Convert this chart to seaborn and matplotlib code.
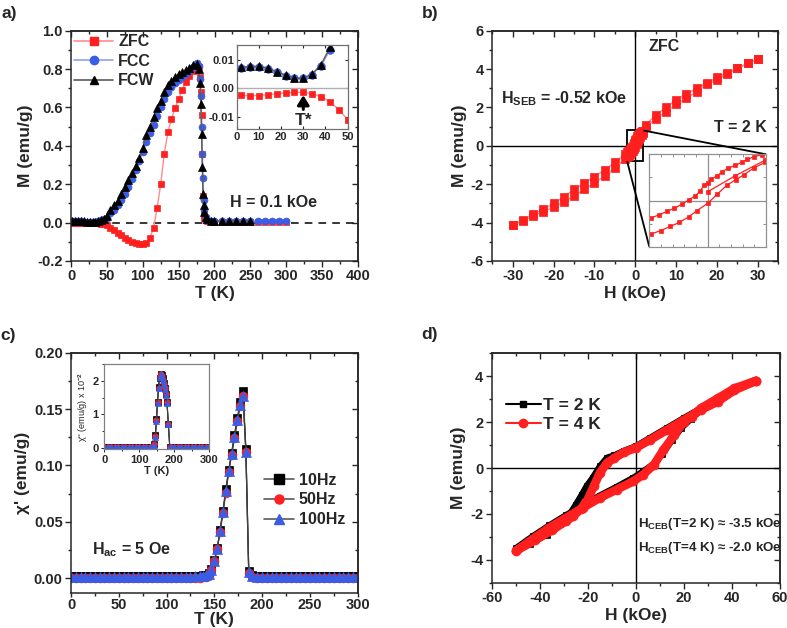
import numpy as np
import matplotlib
matplotlib.use("Agg")
import matplotlib.pyplot as plt
import seaborn as sns
from matplotlib.lines import Line2D
from matplotlib.ticker import MultipleLocator, FormatStrFormatter
from mpl_toolkits.axes_grid1.inset_locator import mark_inset

# ---------------- data ----------------
# a) M(T), low temperature part (also shown in the inset)
T_low = [2, 6, 10, 14, 18, 22, 26, 30, 34, 38, 42, 46, 50]
zfc_low = [-0.0024, -0.0026, -0.0025, -0.0022, -0.0019, -0.0016, -0.0014, -0.0014,
           -0.0018, -0.0029, -0.0047, -0.0075, -0.011]
fcc_low = [0.0072, 0.0076, 0.0076, 0.0070, 0.0057, 0.0045, 0.0035, 0.0035,
           0.0049, 0.0080, 0.0135, 0.019, 0.026]
fcw_low = [0.0074, 0.0078, 0.0078, 0.0072, 0.0059, 0.0047, 0.0036, 0.0036,
           0.0051, 0.0084, 0.0145, 0.021, 0.035]

T_hi = [55, 60, 65, 70, 75, 80, 85, 90, 95, 100, 105, 110, 115, 120, 125, 130, 135, 140,
        145, 150, 155, 160, 165, 170, 175, 178, 180, 181, 182, 183, 184, 185, 186, 188,
        190, 195, 200, 210, 220, 230, 240, 250, 260, 270, 280, 290, 300]
zfc_hi = [-0.028, -0.040, -0.053, -0.066, -0.078, -0.090, -0.100, -0.108, -0.113, -0.114,
          -0.105, -0.080, -0.028, 0.075, 0.20, 0.36, 0.47, 0.54, 0.595, 0.645, 0.69, 0.735,
          0.765, 0.79, 0.81, 0.81, 0.76, 0.68, 0.56, 0.36, 0.14, 0.05, 0.025, 0.012, 0.008,
          0.006, 0.005, 0.005, 0.005, 0.005, 0.005, 0.005, 0.005, 0.005, 0.005, 0.005, 0.005]
fcc_hi = [0.05, 0.068, 0.09, 0.118, 0.15, 0.187, 0.228, 0.272, 0.32, 0.37, 0.42, 0.466,
          0.51, 0.555, 0.60, 0.645, 0.68, 0.705, 0.725, 0.745, 0.76, 0.772, 0.79, 0.812,
          0.83, 0.815, 0.75, 0.66, 0.50, 0.36, 0.23, 0.12, 0.065, 0.03, 0.015, 0.01, 0.008,
          0.008, 0.008, 0.008, 0.008, 0.008, 0.008, 0.008, 0.008, 0.008, 0.008]
fcw_hi = [0.066, 0.09, 0.115, 0.147, 0.183, 0.22, 0.258, 0.296, 0.335, 0.39, 0.455, 0.50,
          0.55, 0.595, 0.635, 0.68, 0.715, 0.74, 0.76, 0.775, 0.787, 0.796, 0.807, 0.82,
          0.825, 0.80, 0.73, 0.62, 0.46, 0.29, 0.15, 0.09, 0.055, 0.03, 0.018, 0.01, 0.008,
          0.008, 0.008, 0.008, 0.008, 0.008]

# b) M(H) at 2 K after ZFC
H_down = [30, 27.5, 25, 22.5, 20, 17.5, 15, 12.5, 10, 7.5, 5, 2.5,
          1.85, 1.59, 1.36, 1.17, 0.94, 0.71, 0.50, 0.31, 0.10, 0.0, -0.125, -0.26,
          -0.43, -0.64, -0.87, -1.14, -1.40, -1.67, -1.94,
          -2.5, -5, -7.5, -10, -12.5, -15, -17.5, -20, -22.5, -25, -27.5, -30]
M_down = [4.5, 4.3, 4.04, 3.81, 3.57, 3.26, 3.0, 2.70, 2.39, 2.0, 1.6, 1.1,
          0.79, 0.76, 0.71, 0.66, 0.61, 0.56, 0.50, 0.42, 0.37, 0.30, 0.27, 0.16,
          0.08, 0.01, -0.06, -0.135, -0.19, -0.25, -0.30,
          -0.42, -0.86, -1.26, -1.6, -1.95, -2.27, -2.65, -3.0, -3.31, -3.55, -3.86, -4.12]
H_up = [-30, -27.5, -25, -22.5, -20, -17.5, -15, -12.5, -10, -7.5, -5, -2.5,
        -1.94, -1.60, -1.29, -0.97, -0.64, -0.38, 0.0, 0.33, 0.65, 0.96, 1.26, 1.60, 1.98,
        2.5, 5, 7.5, 10, 12.5, 15, 17.5, 20, 22.5, 25, 27.5, 30]
M_up = [-4.12, -3.93, -3.65, -3.43, -3.2, -2.91, -2.62, -2.27, -1.95, -1.57, -1.17, -0.68,
        -0.58, -0.52, -0.45, -0.38, -0.28, -0.18, -0.05, 0.11, 0.26, 0.36, 0.45, 0.57, 0.66,
        0.98, 1.4, 1.78, 2.16, 2.47, 2.82, 3.2, 3.43, 3.75, 4.04, 4.3, 4.5]
H_virgin = [0.0, 0.95, 1.98]
M_virgin = [0.15, 0.43, 0.70]

# c) ac susceptibility
T_c = list(range(0, 140, 5)) + [138, 141, 144, 147, 150, 153, 156, 159, 162, 165, 168,
                                171, 174, 177, 180, 183, 186, 189] + list(range(195, 305, 5))
chi1_10 = [0.002, 0.002, 0.002, 0.002, 0.002, 0.002, 0.002, 0.002, 0.002, 0.002, 0.002,
           0.002, 0.002, 0.002, 0.002, 0.002, 0.002, 0.002, 0.002, 0.002, 0.002, 0.002,
           0.002, 0.002, 0.002, 0.002, 0.0022, 0.0024,
           0.0025, 0.003, 0.0045, 0.008, 0.016, 0.027, 0.043, 0.060, 0.079, 0.096, 0.111,
           0.127, 0.142, 0.156, 0.166, 0.115, 0.006, 0.003,
           0.002, 0.002, 0.002, 0.002, 0.002, 0.002, 0.002, 0.002, 0.002, 0.002, 0.002,
           0.002, 0.002, 0.002, 0.002, 0.002, 0.002, 0.002, 0.002, 0.002, 0.002, 0.002]
chi1_50 = [0.0, 0.0, 0.0, 0.0, 0.0, 0.0, 0.0, 0.0, 0.0, 0.0, 0.0, 0.0, 0.0, 0.0,
           0.0, 0.0, 0.0, 0.0, 0.0, 0.0, 0.0, 0.0, 0.0, 0.0, 0.0, 0.0, 0.0002, 0.0005,
           0.001, 0.0015, 0.003, 0.007, 0.015, 0.026, 0.041, 0.058, 0.076, 0.094, 0.109,
           0.124, 0.139, 0.153, 0.162, 0.112, 0.005, 0.001,
           0.0, 0.0, 0.0, 0.0, 0.0, 0.0, 0.0, 0.0, 0.0, 0.0, 0.0,
           0.0, 0.0, 0.0, 0.0, 0.0, 0.0, 0.0, 0.0, 0.0, 0.0, 0.0]
chi1_100 = [0.0015, 0.0015, 0.0015, 0.0015, 0.0015, 0.0015, 0.0015, 0.0015, 0.0015, 0.0015,
            0.0015, 0.0015, 0.0015, 0.0015, 0.0015, 0.0015, 0.0015, 0.0015, 0.0015, 0.0015,
            0.0015, 0.0015, 0.0015, 0.0015, 0.0015, 0.0015, 0.0017, 0.0019,
            0.002, 0.0025, 0.004, 0.0075, 0.0155, 0.026, 0.042, 0.059, 0.077, 0.095, 0.110,
            0.125, 0.140, 0.154, 0.162, 0.112, 0.0055, 0.002,
            0.0015, 0.0015, 0.0015, 0.0015, 0.0015, 0.0015, 0.0015, 0.0015, 0.0015, 0.0015,
            0.0015, 0.0015, 0.0015, 0.0015, 0.0015, 0.0015, 0.0015, 0.0015, 0.0015, 0.0015,
            0.0015, 0.0015]

T_c2 = list(range(0, 140, 10)) + [140, 143, 146, 149, 152, 155, 158, 161, 164, 167, 170,
                                  173, 176, 179, 183, 187] + list(range(190, 310, 10))
chi2_10 = [0.03, 0.03, 0.03, 0.03, 0.03, 0.03, 0.03, 0.03, 0.03, 0.03, 0.03, 0.03, 0.03, 0.03,
           0.03, 0.12, 0.38, 0.85, 1.38, 1.82, 2.10, 2.20, 2.18, 2.08, 1.95, 1.80, 1.62, 1.38,
           0.72, 0.03,
           0.03, 0.03, 0.03, 0.03, 0.03, 0.03, 0.03, 0.03, 0.03, 0.03, 0.03, 0.03]
chi2_50 = [0.03, 0.03, 0.03, 0.03, 0.03, 0.03, 0.03, 0.03, 0.03, 0.03, 0.03, 0.03, 0.03, 0.03,
           0.03, 0.10, 0.36, 0.82, 1.36, 1.80, 2.12, 2.21, 2.16, 2.04, 1.92, 1.78, 1.60, 1.36,
           0.71, 0.03,
           0.03, 0.03, 0.03, 0.03, 0.03, 0.03, 0.03, 0.03, 0.03, 0.03, 0.03, 0.03]
chi2_100 = [0.03, 0.03, 0.03, 0.03, 0.03, 0.03, 0.03, 0.03, 0.03, 0.03, 0.03, 0.03, 0.03, 0.03,
            0.03, 0.09, 0.33, 0.80, 1.34, 1.79, 2.12, 2.22, 2.15, 2.02, 1.90, 1.76, 1.58, 1.35,
            0.70, 0.03,
            0.03, 0.03, 0.03, 0.03, 0.03, 0.03, 0.03, 0.03, 0.03, 0.03, 0.03, 0.03]

# d) field cooled loops
H_2K = [50, 41, 34, 27, 20, 13, 6, 0, -5, -9, -12, -15, -18, -20.5, -22.5, -25, -28, -31.5,
        -37, -44, -50,
        -43, -36, -29, -22, -15, -8, -1, 3, 7, 11, 15, 19, 23, 27, 34, 41, 50]
M_2K = [3.8, 3.42, 2.95, 2.6, 2.18, 1.75, 1.32, 0.95, 0.75, 0.55, 0.45, 0.07, -0.43, -0.79,
        -1.16, -1.6, -2.09, -2.45, -2.9, -3.3, -3.5,
        -2.98, -2.5, -2.05, -1.62, -1.2, -0.82, -0.42, -0.15, 0.15, 0.6, 1.2, 1.75, 2.15,
        2.55, 3.0, 3.42, 3.8]
H_4K = [50, 41, 34, 27, 20, 13, 6, 0, -5, -9, -12, -15, -17.5, -20, -23, -26, -29, -35,
        -42, -50,
        -43, -36, -29, -22, -15, -8, -1, 3, 7.5, 11.5, 16, 20, 23.5, 27, 34, 41, 50]
M_4K = [3.8, 3.39, 2.89, 2.53, 2.09, 1.66, 1.23, 0.88, 0.68, 0.43, 0.22, -0.22, -0.79, -1.37,
        -1.8, -2.09, -2.31, -2.72, -3.15, -3.62,
        -3.1, -2.6, -2.17, -1.73, -1.3, -0.94, -0.58, -0.29, 0.14, 0.79, 1.44, 2.02, 2.24,
        2.6, 3.03, 3.47, 3.8]

# ---------------- style ----------------
sns.set_style("ticks")
plt.rcParams['font.family'] = ['Liberation Sans', 'DejaVu Sans']
plt.rcParams['font.weight'] = 'bold'
plt.rcParams['axes.labelweight'] = 'bold'
plt.rcParams['axes.unicode_minus'] = False
plt.rcParams['mathtext.fontset'] = 'custom'
plt.rcParams['mathtext.rm'] = 'Liberation Sans:bold'
plt.rcParams['mathtext.bf'] = 'Liberation Sans:bold'
plt.rcParams['mathtext.it'] = 'Liberation Sans:bold:italic'

RED = '#ff1f1f'
PINK = '#ff8c8c'
BLUE = '#3b5de6'
LBLUE = '#8ea2ee'
GREY = '#5a5a5a'

W, H = 787, 628
fig = plt.figure(figsize=(7.87, 6.28), dpi=100)


def px_axes(l, t, r, b):
    return fig.add_axes([l / W, 1 - b / H, (r - l) / W, (b - t) / H])


def draw(ax, x, y, color, marker, ms, face, lw=1.0, z=2):
    sns.lineplot(x=x, y=y, ax=ax, sort=False, estimator=None, color=color,
                 marker=marker, markersize=ms, markerfacecolor=face,
                 markeredgecolor=face, markeredgewidth=0.5, linewidth=lw,
                 zorder=z, legend=False)


def frame(ax, xmaj, xmin, ymaj, ymin, xpad=2):
    ax.xaxis.set_major_locator(MultipleLocator(xmaj))
    ax.xaxis.set_minor_locator(MultipleLocator(xmin))
    ax.yaxis.set_major_locator(MultipleLocator(ymaj))
    ax.yaxis.set_minor_locator(MultipleLocator(ymin))
    ax.tick_params(which='both', direction='out', width=1, labelsize=10.5, pad=2)
    ax.tick_params(axis='x', pad=xpad)
    ax.tick_params(which='major', length=4)
    ax.tick_params(which='minor', length=2.5)
    for s in ax.spines.values():
        s.set_linewidth(1.1)
        s.set_visible(True)
    top = ax.secondary_xaxis('top')
    top.xaxis.set_major_locator(MultipleLocator(xmaj))
    top.xaxis.set_minor_locator(MultipleLocator(xmin))
    top.tick_params(which='both', direction='in', labeltop=False, width=1)
    top.tick_params(which='major', length=4)
    top.tick_params(which='minor', length=2.5)
    right = ax.secondary_yaxis('right')
    right.yaxis.set_major_locator(MultipleLocator(ymaj))
    right.yaxis.set_minor_locator(MultipleLocator(ymin))
    right.tick_params(which='both', direction='in', labelright=False, width=1)
    right.tick_params(which='major', length=4)
    right.tick_params(which='minor', length=2.5)
    for sec in (top, right):
        for s in sec.spines.values():
            s.set_linewidth(1.1)


ax_a = px_axes(71, 30.7, 358, 261)
ax_b = px_axes(492.3, 30.7, 778.3, 261)
ax_c = px_axes(71, 352.7, 357.7, 592.7)
ax_d = px_axes(491.7, 353.3, 780, 582.7)

# ---------------- a) ----------------
ax_a.axhline(0, color='k', lw=1.1, ls=(0, (5, 4)), zorder=1)
draw(ax_a, T_low + T_hi, zfc_low + zfc_hi, PINK, 's', 4.8, RED)
draw(ax_a, T_low + T_hi, fcc_low + fcc_hi, LBLUE, 'o', 5, BLUE)
draw(ax_a, T_low + T_hi[:len(fcw_hi)], fcw_low + fcw_hi, GREY, '^', 5.3, 'k')
ax_a.set_xlim(0, 400)
ax_a.set_ylim(-0.2, 1.0)
frame(ax_a, 50, 25, 0.2, 0.1)
ax_a.set_xlabel('T (K)', fontsize=12.5, labelpad=2)
ax_a.set_ylabel('M (emu/g)', fontsize=12.5, labelpad=3)
ax_a.text(222, 0.105, 'H = 0.1 kOe', fontsize=11.5, va='center', ha='left')
h_a = [Line2D([], [], color=PINK, lw=1.2, marker='s', ms=6, mfc=RED, mec=RED),
       Line2D([], [], color=LBLUE, lw=1.2, marker='o', ms=6, mfc=BLUE, mec=BLUE),
       Line2D([], [], color=GREY, lw=1.2, marker='^', ms=6, mfc='k', mec='k')]
ax_a.legend(h_a, ['ZFC', 'FCC', 'FCW'], loc='upper left', bbox_to_anchor=(0.012, 0.985),
            frameon=False, fontsize=11.5, handlelength=2.4, handletextpad=0.35,
            labelspacing=0.28, borderpad=0, borderaxespad=0)

ins_a = px_axes(236.7, 45, 347.7, 129)
ins_a.axhline(0, color='#b0b0b0', lw=1.0, zorder=1)
draw(ins_a, T_low, zfc_low, PINK, 's', 5, RED)
draw(ins_a, T_low, fcc_low, LBLUE, 'o', 5.5, BLUE)
draw(ins_a, T_low, fcw_low, GREY, '^', 5.5, 'k')
ins_a.set_xlim(0, 50)
ins_a.set_ylim(-0.0143, 0.0153)
ins_a.set_xticks([0, 10, 20, 30, 40, 50])
ins_a.set_yticks([-0.01, 0.0, 0.01])
ins_a.yaxis.set_major_formatter(FormatStrFormatter('%.2f'))
ins_a.tick_params(direction='in', length=2.5, width=0.8, labelsize=8, pad=2,
                  top=True, right=True)
for s in ins_a.spines.values():
    s.set_edgecolor('#707070')
    s.set_linewidth(0.9)
ins_a.annotate('T*', xy=(30, -0.0024), xytext=(30, -0.0112), ha='center', va='center',
               fontsize=12.5,
               arrowprops=dict(arrowstyle='-|>,head_width=0.28,head_length=0.45',
                               color='k', lw=2.2, shrinkA=0, shrinkB=0))

# ---------------- b) ----------------
ax_b.axhline(0, color='k', lw=1.0, zorder=1)
ax_b.axvline(0, color='k', lw=1.0, zorder=1)
draw(ax_b, H_down, M_down, PINK, 's', 6, RED)
draw(ax_b, H_up, M_up, PINK, 's', 6, RED)
draw(ax_b, H_virgin, M_virgin, PINK, 's', 6, RED)
ax_b.set_xlim(-35, 35)
ax_b.set_ylim(-6, 6)
frame(ax_b, 10, 5, 2, 1)
ax_b.set_xlabel('H (kOe)', fontsize=12.5, labelpad=2)
ax_b.set_ylabel('M (emu/g)', fontsize=12.5, labelpad=3)
ax_b.text(7.15, 5.16, 'ZFC', fontsize=11.5, ha='center', va='center')
ax_b.text(-32.8, 2.47, r'H$_{\mathbf{SEB}}$ = -0.52 kOe', fontsize=11.5, ha='left',
          va='center')
ax_b.text(32.1, 0.94, 'T = 2 K', fontsize=11.5, ha='right', va='center')

ins_b = px_axes(649.3, 154.3, 766, 246.7)
ins_b.axhline(0, color='#909090', lw=0.9, zorder=1)
ins_b.axvline(0, color='#909090', lw=0.9, zorder=1)
draw(ins_b, H_down, M_down, RED, 's', 3.3, RED, lw=0.9)
draw(ins_b, H_up, M_up, RED, 's', 3.3, RED, lw=0.9)
draw(ins_b, H_virgin, M_virgin, RED, 's', 3.3, RED, lw=0.9)
ins_b.set_xlim(-2, 2)
ins_b.set_ylim(-0.8, 0.8)
ins_b.set_xticks(np.arange(-2, 2.01, 0.4))
ins_b.set_yticks(np.arange(-0.8, 0.81, 0.4))
ins_b.tick_params(direction='in', length=2, width=0.6, labelbottom=False, labelleft=False,
                  top=True, right=True, colors='#808080')
for s in ins_b.spines.values():
    s.set_edgecolor('#909090')
    s.set_linewidth(0.9)
mark_inset(ax_b, ins_b, loc1=1, loc2=3, fc='none', ec='k', lw=1.3)

# ---------------- c) ----------------
draw(ax_c, T_c, chi1_10, '#202020', 's', 6.3, 'k', lw=0.9)
draw(ax_c, T_c, chi1_50, '#404040', 'o', 6.3, RED, lw=0.9)
draw(ax_c, T_c, chi1_100, '#404040', '^', 6.8, BLUE, lw=0.9)
ax_c.set_xlim(0, 300)
ax_c.set_ylim(-0.0128, 0.2)
frame(ax_c, 50, 25, 0.05, 0.025, xpad=0.5)
ax_c.tick_params(axis='x', which='major', length=3)
ax_c.tick_params(axis='x', which='minor', length=2)
ax_c.set_xlabel('T (K)', fontsize=12.5, labelpad=0)
ax_c.set_ylabel("χ' (emu/g)", fontsize=12.5, labelpad=3)
ax_c.text(21.7, 0.025, r'H$_{\mathbf{ac}}$ = 5 Oe', fontsize=11.5, ha='left', va='center')
h_c = [Line2D([], [], color=GREY, lw=1.2, marker='s', ms=6.5, mfc='k', mec='k'),
       Line2D([], [], color=GREY, lw=1.2, marker='o', ms=6.5, mfc=RED, mec=RED),
       Line2D([], [], color=GREY, lw=1.2, marker='^', ms=7, mfc=BLUE, mec=BLUE)]
ax_c.legend(h_c, ['10Hz', '50Hz', '100Hz'], loc='upper left', bbox_to_anchor=(0.672, 0.5),
            frameon=False, fontsize=11.5, handlelength=1.9, handletextpad=0.3,
            labelspacing=0.3, borderpad=0, borderaxespad=0)

ins_c = px_axes(104.3, 364.3, 209.3, 449.3)
draw(ins_c, T_c2, chi2_10, '#202020', 's', 4, 'k', lw=0.8)
draw(ins_c, T_c2, chi2_50, '#404040', 'o', 4, RED, lw=0.8)
draw(ins_c, T_c2, chi2_100, '#404040', '^', 4.3, BLUE, lw=0.8)
ins_c.set_xlim(0, 300)
ins_c.set_ylim(-0.05, 2.5)
ins_c.xaxis.set_major_locator(MultipleLocator(100))
ins_c.xaxis.set_minor_locator(MultipleLocator(50))
ins_c.yaxis.set_major_locator(MultipleLocator(1))
ins_c.yaxis.set_minor_locator(MultipleLocator(0.5))
ins_c.tick_params(which='both', direction='out', width=0.7, labelsize=8, pad=1.5)
ins_c.tick_params(which='major', length=2.5)
ins_c.tick_params(which='minor', length=1.5)
for s in ins_c.spines.values():
    s.set_edgecolor('#808080')
    s.set_linewidth(0.9)
ins_c.set_xlabel('T (K)', fontsize=8, labelpad=1)
ins_c.set_ylabel(r"χ'' (emu/g) x 10$^{-2}$", fontsize=6.5, fontweight='normal', labelpad=2)

# ---------------- d) ----------------
ax_d.axhline(0, color='k', lw=1.0, zorder=1)
ax_d.axvline(0, color='k', lw=1.0, zorder=1)
draw(ax_d, H_2K, M_2K, 'k', 's', 5, 'k', lw=4.5)
draw(ax_d, H_4K, M_4K, RED, 'o', 6.5, RED, lw=6.2)
ax_d.set_xlim(-60, 60)
ax_d.set_ylim(-5, 5)
frame(ax_d, 20, 10, 2, 1)
ax_d.set_xlabel('H (kOe)', fontsize=12.5, labelpad=2)
ax_d.set_ylabel('M (emu/g)', fontsize=12.5, labelpad=3)
ax_d.text(0.8, -2.45, r'H$_{\mathbf{CEB}}$(T=2 K) ≈ -3.5 kOe', fontsize=9.6, ha='left',
          va='center')
ax_d.text(0.8, -3.5, r'H$_{\mathbf{CEB}}$(T=4 K) ≈ -2.0 kOe', fontsize=9.6, ha='left',
          va='center')
h_d = [Line2D([], [], color='k', lw=1.5, marker='s', ms=4.5, mfc='k', mec='k'),
       Line2D([], [], color=RED, lw=1.5, marker='o', ms=6, mfc=RED, mec=RED)]
ax_d.legend(h_d, ['T = 2 K', 'T = 4 K'], loc='upper left', bbox_to_anchor=(0.05, 0.805),
            frameon=False, fontsize=12.5, handlelength=2.0, handletextpad=0.15,
            labelspacing=0.2, borderpad=0, borderaxespad=0)

# panel letters
fig.text(2 / W, 1 - 13.5 / H, 'a)', fontsize=12.5, va='center', ha='left')
fig.text(421.7 / W, 1 - 13.5 / H, 'b)', fontsize=12.5, va='center', ha='left')
fig.text(0 / W, 1 - 335 / H, 'c)', fontsize=12.5, va='center', ha='left')
fig.text(421.7 / W, 1 - 334.5 / H, 'd)', fontsize=12.5, va='center', ha='left')

fig.savefig('out.png', dpi=100, facecolor='white')
